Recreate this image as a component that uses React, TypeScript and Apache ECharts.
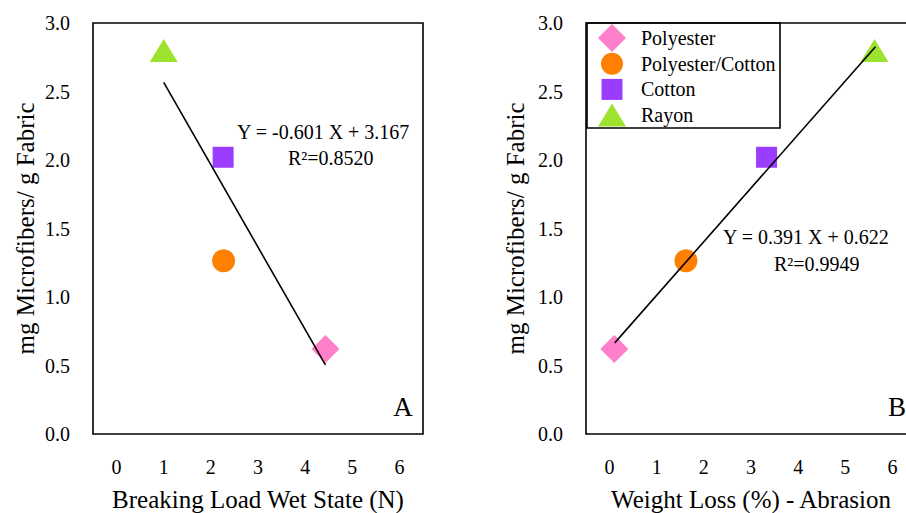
import React, { useEffect, useRef } from "react";
import * as echarts from "echarts";

// ---- data ----
const fabrics = ["Polyester", "Polyester/Cotton", "Cotton", "Rayon"];
const breakingLoad = [4.43, 2.27, 2.26, 1.0];
const weightLoss = [0.1, 1.62, 3.33, 5.62];
const microfibers = [0.62, 1.265, 2.02, 2.8];
const regressionA = [
  [1.0, 2.566],
  [4.43, 0.504],
];
const regressionB = [
  [0.11, 0.665],
  [5.64, 2.827],
];
const xTicks = [0, 1, 2, 3, 4, 5, 6];
const eqA = ["Y = -0.601 X + 3.167", "R\u00b2=0.8520"];
const eqB = ["Y = 0.391 X + 0.622", "R\u00b2=0.9949"];

// ---- styles ----
const FONT = "Liberation Serif";
const colors = ["#FF80CA", "#FF7F00", "#9B3DFF", "#9DE22F"];
const symbols = ["diamond", "circle", "rect", "triangle"];
const symbolSizes: any[] = [28, 23, 21, [28, 23]];
const legendIcons = [
  "path://M0,0M28,28M14,0L28,14L14,28L0,14Z",
  "path://M0,0M28,28M3,14A11,11 0 1,1 25,14A11,11 0 1,1 3,14Z",
  "path://M0,0M28,28M3.5,3.5L24.5,3.5L24.5,24.5L3.5,24.5Z",
  "path://M0,0M28,28M14,2.5L28,25.5L0,25.5Z",
];

function makeXAxis(gridIndex: number, name: string) {
  return {
    type: "value",
    gridIndex,
    min: -0.5,
    max: 6.5,
    name,
    nameLocation: "middle",
    nameGap: 53,
    nameTextStyle: { fontFamily: FONT, fontSize: 25, color: "#000" },
    axisLine: { show: false },
    axisTick: { show: false },
    splitLine: { show: false },
    axisLabel: {
      customValues: xTicks,
      margin: 23,
      fontFamily: FONT,
      fontSize: 20,
      color: "#000",
    },
  };
}

function makeYAxis(gridIndex: number, gap: number) {
  return {
    type: "value",
    gridIndex,
    min: 0,
    max: 3,
    interval: 0.5,
    name: "mg Microfibers/ g Fabric",
    nameLocation: "middle",
    nameGap: gap,
    nameTextStyle: { fontFamily: FONT, fontSize: 25, color: "#000" },
    axisLine: { show: false },
    axisTick: { show: false },
    splitLine: { show: false },
    axisLabel: {
      margin: 23,
      fontFamily: FONT,
      fontSize: 20,
      color: "#000",
      formatter: (v: number) => v.toFixed(1),
    },
  };
}

export default function App() {
  const ref = useRef<HTMLDivElement>(null);

  useEffect(() => {
    if (!ref.current) return;
    const chart = echarts.init(ref.current, null, { renderer: "svg" });

    const scatterSeries: any[] = [];
    [breakingLoad, weightLoss].forEach((xs, panel) => {
      fabrics.forEach((name, i) => {
        scatterSeries.push({
          type: "scatter",
          name,
          xAxisIndex: panel,
          yAxisIndex: panel,
          symbol: symbols[i],
          symbolSize: symbolSizes[i],
          itemStyle: { color: colors[i], opacity: 1 },
          data: [[xs[i], microfibers[i]]],
          z: 2,
        });
      });
    });

    const lineSeries = [regressionA, regressionB].map((d, panel) => ({
      type: "line",
      name: "fit" + panel,
      xAxisIndex: panel,
      yAxisIndex: panel,
      data: d,
      showSymbol: false,
      symbol: "none",
      lineStyle: { color: "#000", width: 1.6 },
      z: 5,
    }));

    const textBase = { fontFamily: FONT, fontSize: 20, fill: "#000" };

    chart.setOption({
      animation: false,
      backgroundColor: "#fff",
      textStyle: { fontFamily: FONT },
      grid: [
        {
          left: 93,
          top: 23,
          width: 330,
          height: 411,
          show: true,
          borderColor: "#000",
          borderWidth: 1.6,
          outerBoundsMode: "none",
        },
        {
          left: 586,
          top: 23,
          width: 330,
          height: 411,
          show: true,
          borderColor: "#000",
          borderWidth: 1.6,
          outerBoundsMode: "none",
        },
      ],
      xAxis: [
        makeXAxis(0, "Breaking Load Wet State (N)"),
        makeXAxis(1, "Weight Loss (%) - Abrasion"),
      ],
      yAxis: [makeYAxis(0, 55), makeYAxis(1, 58)],
      legend: {
        orient: "vertical",
        left: 587,
        top: 23,
        padding: [1, 3, 0, 11],
        itemGap: -2.3,
        itemWidth: 28,
        itemHeight: 28,
        symbolKeepAspect: true,
        borderWidth: 0,
        selectedMode: false,
        textStyle: {
          fontFamily: FONT,
          fontSize: 20,
          color: "#000",
          padding: [0, 0, 0, 10],
        },
        data: fabrics.map((name, i) => ({ name, icon: legendIcons[i] })),
      },
      graphic: [
        {
          type: "rect",
          shape: { x: 587, y: 23, width: 193, height: 105 },
          style: { fill: "none", stroke: "#000", lineWidth: 1.6 },
          z: 10,
        },
        {
          type: "text",
          x: 237,
          y: 132,
          style: { ...textBase, text: eqA[0], align: "left", verticalAlign: "middle" },
        },
        {
          type: "text",
          x: 288,
          y: 158,
          style: { ...textBase, text: eqA[1], align: "left", verticalAlign: "middle" },
        },
        {
          type: "text",
          x: 723,
          y: 237,
          style: { ...textBase, text: eqB[0], align: "left", verticalAlign: "middle" },
        },
        {
          type: "text",
          x: 774,
          y: 264,
          style: { ...textBase, text: eqB[1], align: "left", verticalAlign: "middle" },
        },
        {
          type: "text",
          x: 403,
          y: 407,
          style: { ...textBase, fontSize: 27, text: "A", align: "center", verticalAlign: "middle" },
        },
        {
          type: "text",
          x: 897,
          y: 407,
          style: { ...textBase, fontSize: 27, text: "B", align: "center", verticalAlign: "middle" },
        },
      ],
      series: [...scatterSeries, ...lineSeries],
    });

    return () => chart.dispose();
  }, []);

  return (
    <div
      style={{
        position: "absolute",
        left: 0,
        top: 0,
        width: 906,
        height: 513,
        overflow: "hidden",
        background: "#fff",
      }}
    >
      <div ref={ref} style={{ width: 906, height: 513 }} />
    </div>
  );
}
